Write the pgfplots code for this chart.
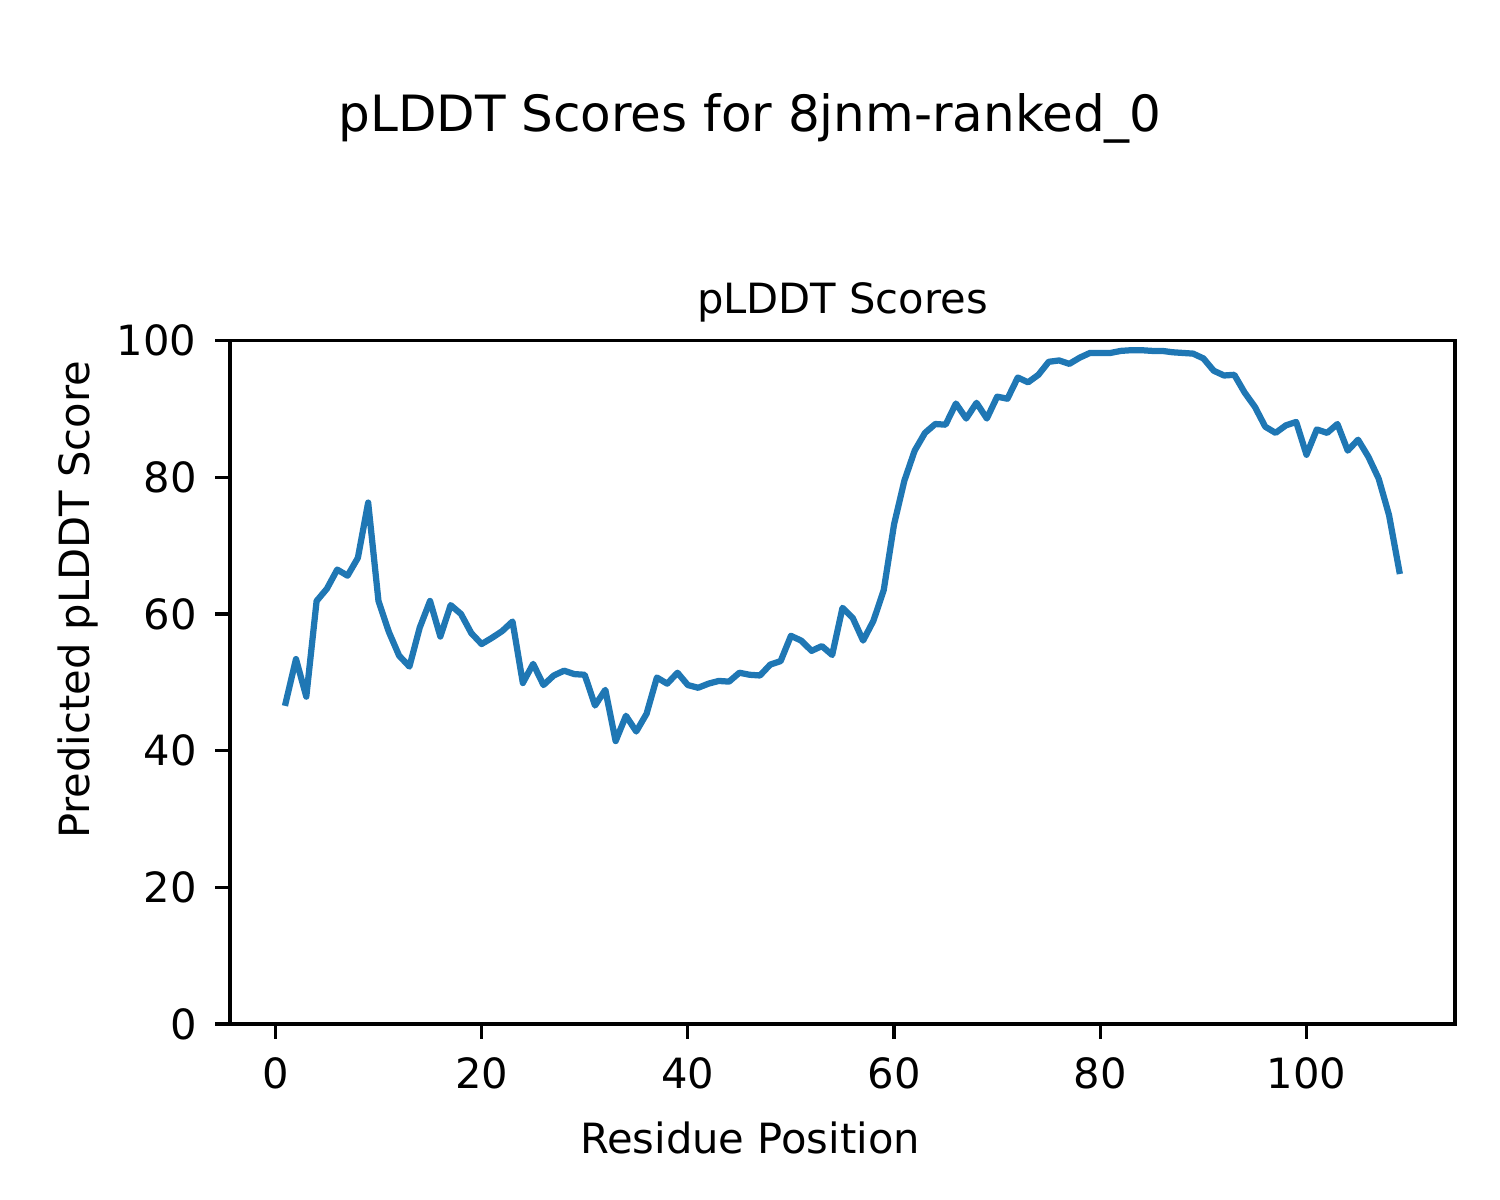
\documentclass[border=0pt]{standalone}
\usepackage{pgfplots}
\pgfplotsset{compat=1.18}
\usepackage{fontspec}
\setmainfont{DejaVu Sans}
\definecolor{tabblue}{HTML}{1F77B4}
\begin{document}
\begin{tikzpicture}
\path[use as bounding box] (-55.2pt,-42.24pt) rectangle (304.8pt,245.76pt);
\begin{axis}[
  at={(0,0)}, anchor=south west,
  scale only axis, width=294pt, height=164pt,
  xmin=-4.4, xmax=114.4, ymin=0, ymax=100,
  xtick={0,20,40,60,80,100}, ytick={0,20,40,60,80,100},
  tick align=outside, major tick length=3.5pt,
  xtick pos=bottom, ytick pos=left,
  axis line style={line width=0.8pt},
  every tick/.style={black, line width=0.8pt},
  tick label style={font=\fontsize{10}{12}\selectfont},
  /pgf/number format/assume math mode=true,
  xticklabel style={yshift=-1pt},
  yticklabel style={xshift=-1pt},
  clip=false,
]
\addplot[tabblue, line width=1.5pt, line join=round, line cap=rect] coordinates {
(1,47.0)(2,53.4)(3,47.9)(4,61.9)(5,63.7)(6,66.5)(7,65.6)(8,68.2)(9,76.3)(10,61.9)
(11,57.4)(12,53.9)(13,52.3)(14,58.0)(15,61.9)(16,56.7)(17,61.3)(18,60.0)(19,57.2)(20,55.6)
(21,56.5)(22,57.5)(23,58.9)(24,49.9)(25,52.7)(26,49.6)(27,51.0)(28,51.7)(29,51.2)(30,51.1)
(31,46.6)(32,48.9)(33,41.4)(34,45.1)(35,42.8)(36,45.4)(37,50.7)(38,49.8)(39,51.4)(40,49.6)
(41,49.2)(42,49.8)(43,50.2)(44,50.1)(45,51.4)(46,51.1)(47,51.0)(48,52.6)(49,53.1)(50,56.8)
(51,56.1)(52,54.6)(53,55.3)(54,54.0)(55,60.9)(56,59.4)(57,56.1)(58,59.0)(59,63.5)(60,73.1)
(61,79.5)(62,83.9)(63,86.5)(64,87.8)(65,87.7)(66,90.8)(67,88.6)(68,90.9)(69,88.6)(70,91.8)
(71,91.5)(72,94.6)(73,93.9)(74,95.0)(75,96.9)(76,97.1)(77,96.6)(78,97.5)(79,98.2)(80,98.2)
(81,98.2)(82,98.5)(83,98.6)(84,98.6)(85,98.5)(86,98.5)(87,98.3)(88,98.2)(89,98.1)(90,97.4)
(91,95.6)(92,94.9)(93,95.0)(94,92.4)(95,90.3)(96,87.4)(97,86.5)(98,87.6)(99,88.1)(100,83.3)
(101,87.0)(102,86.5)(103,87.8)(104,83.9)(105,85.5)(106,83.0)(107,79.8)(108,74.5)(109,66.3)
};
\end{axis}
\node[font=\fontsize{12}{14}\selectfont] at (124.8pt,217.4pt) {pLDDT Scores for 8jnm-ranked\_0};
\node[font=\fontsize{10}{12}\selectfont] at (147pt,173.3pt) {pLDDT Scores};
\node[font=\fontsize{10}{12}\selectfont] at (124.8pt,-27.4pt) {Residue Position};
\node[font=\fontsize{10}{12}\selectfont, rotate=90] at (-36.5pt,101.8pt) {Predicted pLDDT Score};
\end{tikzpicture}
\end{document}
